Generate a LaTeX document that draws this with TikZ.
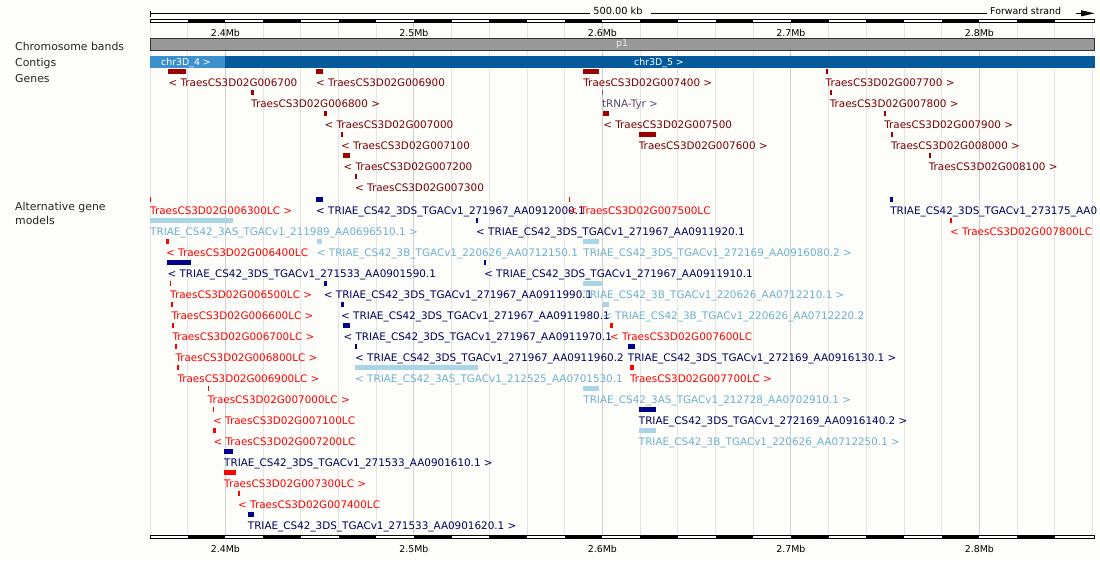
\documentclass[tikz,border=0pt]{standalone}
\usepackage{fontspec}
\setmainfont{DejaVu Sans}

\definecolor{bg}{RGB}{253,253,250}
\definecolor{gridlight}{RGB}{228,228,228}
\definecolor{griddark}{RGB}{208,208,208}
\definecolor{genebar}{RGB}{155,0,0}
\definecolor{genetext}{RGB}{122,0,0}
\definecolor{trnabar}{RGB}{120,90,140}
\definecolor{trnatext}{RGB}{90,70,110}
\definecolor{lcred}{RGB}{255,0,0}
\definecolor{navybar}{RGB}{0,0,139}
\definecolor{navytext}{RGB}{0,0,96}
\definecolor{skybar}{RGB}{168,214,230}
\definecolor{skytext}{RGB}{110,176,208}
\definecolor{ctglight}{RGB}{60,145,204}
\definecolor{ctgdark}{RGB}{4,90,155}
\definecolor{bandgrey}{RGB}{153,153,153}

\newcommand\featfont{\fontsize{10.4}{12}\selectfont}
\newcommand\trackfont{\fontsize{10.9}{13}\selectfont}
\newcommand\rulerfont{\fontsize{9.4}{11}\selectfont}

% one feature: node name, bar colour, text colour, start x, end x, row top, label
\newcommand\feat[7]{%
  \fill[#2] (#4,#6) rectangle (#5,#6+4.7);
  \node[featlabel,text=#3] (#1) at (#4,#6+17) {#7};}

\begin{document}
\begin{tikzpicture}[x=1pt,y=-1pt,
  featlabel/.style={anchor=base west,inner sep=0pt,font=\featfont},
  tracklabel/.style={anchor=base west,inner sep=0pt,font=\trackfont,text=black!85},
  ticklabel/.style={anchor=base,inner sep=0pt,font=\rulerfont},
  rulerbar/.style={fill=white,draw=black,line width=0.8pt}]

\useasboundingbox (0,0) rectangle (1100,560);
\clip (0,0) rectangle (1100,560);
\fill[bg] (0,0) rectangle (1100,560);

% vertical grid, every 20 kb, darker every 100 kb
\foreach \k in {0,...,25}
  \draw[gridlight,line width=1pt] ({150+37.7*\k},22) -- ({150+37.7*\k},535);
\foreach \k in {2,7,12,17,22}
  \draw[griddark,line width=1pt] ({150+37.7*\k},22) -- ({150+37.7*\k},535);

% top scale line with span and strand
\draw[line width=0.8pt] (150,13.3) -- (589.5,13.3);
\draw[line width=0.8pt] (651.4,13.3) -- (987,13.3);
\draw[line width=0.8pt] (150,10.5) -- (150,16.5);
\node[ticklabel,font=\fontsize{9.8}{11}\selectfont] (span) at (618,14.8) {500.00 kb};
\node[ticklabel,anchor=base west] (strand) at (990,14.8) {Forward strand};
\coordinate (arrowtail) at (1076,13.3);
\coordinate (arrowtip) at (1094.5,13.3);
\draw[line width=0.8pt] (arrowtail) -- (1082,13.3);
\fill (1081,10.2) -- (arrowtip) -- (1081,16.4) -- cycle;

% top and bottom rulers
\draw[rulerbar] (150,18.9) rectangle (1094,21.9);
\foreach \k in {1,3,...,23}
  \fill ({150+37.7*\k},18.9) rectangle ({150+37.7*(\k+1)},21.9);
\draw[rulerbar] (150,535.3) rectangle (1094,538.6);
\foreach \k in {1,3,...,23}
  \fill ({150+37.7*\k},535.3) rectangle ({150+37.7*(\k+1)},538.6);

\foreach \x/\t [count=\i] in {225.4/2.4Mb,413.9/2.5Mb,602.4/2.6Mb,790.9/2.7Mb,979.4/2.8Mb}{
  \node[ticklabel] (top\i) at (\x,36.2) {\t};
  \node[ticklabel] (bot\i) at (\x,552.8) {\t};
}

% track labels
\node[tracklabel] (lbands) at (15,50.8) {Chromosome bands};
\node[tracklabel] (lcontigs) at (15,66) {Contigs};
\node[tracklabel] (lgenes) at (15,82) {Genes};
\node[tracklabel] (lalt1) at (15,210.7) {Alternative gene};
\node[tracklabel] (lalt2) at (15,224.3) {models};

% chromosome band
\draw[fill=bandgrey,draw=black!80,line width=0.8pt] (150,38.6) rectangle (1094,50);
\node[ticklabel,text=black!8] (p1) at (622,46.6) {p1};

% contigs
\fill[ctglight] (150,55.7) rectangle (224.6,68.3);
\fill[ctgdark] (224.6,55.7) rectangle (1094.5,68.3);
\node[ticklabel,text=white] (c4) at (186,65.7) {chr3D\_4 >};
\node[ticklabel,text=white] (c5) at (659,65.7) {chr3D\_5 >};

% genes
\feat{g6700}{genebar}{genetext}{168.3}{185.7}{69}{< TraesCS3D02G006700}
\feat{g6900}{genebar}{genetext}{316}{322.7}{69}{< TraesCS3D02G006900}
\feat{g7400}{genebar}{genetext}{583.2}{598.6}{69}{TraesCS3D02G007400 >}
\feat{g7700}{genebar}{genetext}{825.5}{827.5}{69}{TraesCS3D02G007700 >}
\feat{g6800}{genebar}{genetext}{251}{253.5}{90}{TraesCS3D02G006800 >}
\feat{trna}{trnabar}{trnatext}{601.8}{602.9}{90}{tRNA-Tyr >}
\feat{g7800}{genebar}{genetext}{829.6}{831.6}{90}{TraesCS3D02G007800 >}
\feat{g7000}{genebar}{genetext}{324.3}{326.8}{111}{< TraesCS3D02G007000}
\feat{g7500}{genebar}{genetext}{603.1}{608.9}{111}{< TraesCS3D02G007500}
\feat{g7900}{genebar}{genetext}{884.1}{886.1}{111}{TraesCS3D02G007900 >}
\feat{g7100}{genebar}{genetext}{341}{343}{132}{< TraesCS3D02G007100}
\feat{g7600}{genebar}{genetext}{638.7}{655.9}{132}{TraesCS3D02G007600 >}
\feat{g8000}{genebar}{genetext}{890.9}{892.9}{132}{TraesCS3D02G008000 >}
\feat{g7200}{genebar}{genetext}{343.3}{350}{153}{< TraesCS3D02G007200}
\feat{g8100}{genebar}{genetext}{928.6}{930.6}{153}{TraesCS3D02G008100 >}
\feat{g7300}{genebar}{genetext}{355}{357}{174}{< TraesCS3D02G007300}

% alternative gene models
\feat{a6300}{lcred}{lcred}{150}{151.3}{197}{TraesCS3D02G006300LC >}
\feat{a2000}{navybar}{navytext}{316}{322.7}{197}{< TRIAE\_CS42\_3DS\_TGACv1\_271967\_AA0912000.1}
\feat{a7500}{lcred}{lcred}{568.5}{569.8}{197}{< TraesCS3D02G007500LC}
\feat{a3175}{navybar}{navytext}{890.1}{893.2}{197}{TRIAE\_CS42\_3DS\_TGACv1\_273175\_AA0}

\feat{a6510}{skybar}{skytext}{150}{232.7}{218}{TRIAE\_CS42\_3AS\_TGACv1\_211989\_AA0696510.1 >}
\feat{a1920}{navybar}{navytext}{476}{477.5}{218}{< TRIAE\_CS42\_3DS\_TGACv1\_271967\_AA0911920.1}
\feat{a7800}{lcred}{lcred}{950}{951.7}{218}{< TraesCS3D02G007800LC}

\feat{a6400}{lcred}{lcred}{166}{168.7}{239}{< TraesCS3D02G006400LC}
\feat{a2150}{skybar}{skytext}{316.7}{322}{239}{< TRIAE\_CS42\_3B\_TGACv1\_220626\_AA0712150.1}
\feat{a6080}{skybar}{skytext}{583.2}{598.6}{239}{TRIAE\_CS42\_3DS\_TGACv1\_272169\_AA0916080.2 >}

\feat{a1590}{navybar}{navytext}{167.3}{190.7}{260}{< TRIAE\_CS42\_3DS\_TGACv1\_271533\_AA0901590.1}
\feat{a1910}{navybar}{navytext}{484}{485.5}{260}{< TRIAE\_CS42\_3DS\_TGACv1\_271967\_AA0911910.1}

\feat{a6500}{lcred}{lcred}{170}{171.2}{281}{TraesCS3D02G006500LC >}
\feat{a1990}{navybar}{navytext}{323.7}{327}{281}{< TRIAE\_CS42\_3DS\_TGACv1\_271967\_AA0911990.1}
\feat{a2210}{skybar}{skytext}{583.2}{602}{281}{TRIAE\_CS42\_3B\_TGACv1\_220626\_AA0712210.1 >}

\feat{a6600}{lcred}{lcred}{171.3}{172.5}{302}{TraesCS3D02G006600LC >}
\feat{a1980}{navybar}{navytext}{341}{344}{302}{< TRIAE\_CS42\_3DS\_TGACv1\_271967\_AA0911980.1}
\feat{a2220}{skybar}{skytext}{603}{608.9}{302}{< TRIAE\_CS42\_3B\_TGACv1\_220626\_AA0712220.2}

\feat{a6700}{lcred}{lcred}{172.3}{173.5}{323}{TraesCS3D02G006700LC >}
\feat{a1970}{navybar}{navytext}{343.3}{350}{323}{< TRIAE\_CS42\_3DS\_TGACv1\_271967\_AA0911970.1}
\feat{a7600}{lcred}{lcred}{610}{612.7}{323}{< TraesCS3D02G007600LC}

\feat{a6800}{lcred}{lcred}{175.3}{176.5}{344}{TraesCS3D02G006800LC >}
\feat{a1960}{navybar}{navytext}{355}{357}{344}{< TRIAE\_CS42\_3DS\_TGACv1\_271967\_AA0911960.2}
\feat{a6130}{navybar}{navytext}{627.7}{634.9}{344}{TRIAE\_CS42\_3DS\_TGACv1\_272169\_AA0916130.1 >}

\feat{a6900}{lcred}{lcred}{177.3}{178.5}{365}{TraesCS3D02G006900LC >}
\feat{a1530}{skybar}{skytext}{355}{477.7}{365}{< TRIAE\_CS42\_3AS\_TGACv1\_212525\_AA0701530.1}
\feat{a7700}{lcred}{lcred}{629.8}{633.9}{365}{TraesCS3D02G007700LC >}

\feat{a7000}{lcred}{lcred}{207.7}{209}{386}{TraesCS3D02G007000LC >}
\feat{a2910}{skybar}{skytext}{583.2}{598.6}{386}{TRIAE\_CS42\_3AS\_TGACv1\_212728\_AA0702910.1 >}

\feat{a7100}{lcred}{lcred}{213}{214}{407}{< TraesCS3D02G007100LC}
\feat{a6140}{navybar}{navytext}{638.7}{655.9}{407}{TRIAE\_CS42\_3DS\_TGACv1\_272169\_AA0916140.2 >}

\feat{a7200}{lcred}{lcred}{213.3}{216}{428}{< TraesCS3D02G007200LC}
\feat{a2250}{skybar}{skytext}{638.7}{655.9}{428}{TRIAE\_CS42\_3B\_TGACv1\_220626\_AA0712250.1 >}

\feat{a1610}{navybar}{navytext}{224}{232.7}{449}{TRIAE\_CS42\_3DS\_TGACv1\_271533\_AA0901610.1 >}
\feat{a7300}{lcred}{lcred}{224}{236}{470}{TraesCS3D02G007300LC >}
\feat{a7400}{lcred}{lcred}{238}{240}{491}{< TraesCS3D02G007400LC}
\feat{a1620}{navybar}{navytext}{247.7}{254}{512}{TRIAE\_CS42\_3DS\_TGACv1\_271533\_AA0901620.1 >}

\end{tikzpicture}
\end{document}
